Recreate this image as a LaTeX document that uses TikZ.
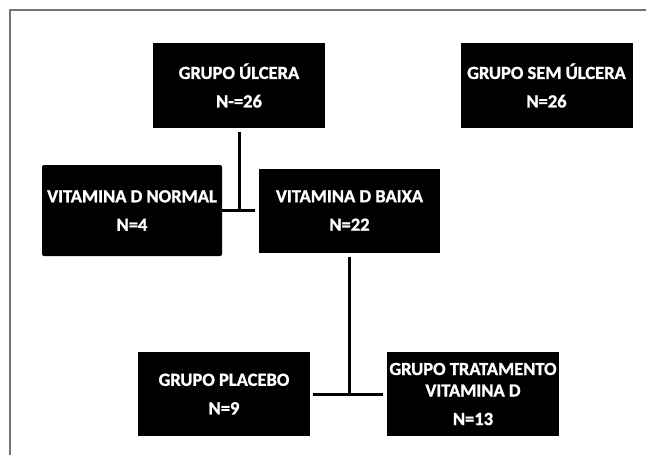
\documentclass[tikz,border=0pt]{standalone}
\usepackage{fontspec}
\setmainfont{Carlito}[BoldFeatures={FakeBold=1.2}]
\tikzset{
	caixa/.style={fill=black, text=white, align=center, inner sep=1pt, font=\fontsize{18.5}{21.5}\selectfont\bfseries},
	liga/.style={black, line width=3pt},
	moldura/.style={black!55, line width=1.5pt}
}
\begin{document}
\begin{tikzpicture}[x=1pt, y=-1pt]
		\useasboundingbox (0,0) rectangle (646,455);
		\draw[moldura] (10,455) -- (10,10) -- (646,10);

		\node[caixa, minimum width=172pt, minimum height=85pt] (ulcera) at (239,85.5) {GRUPO ÚLCERA\\[7pt]N-=26};
		\node[caixa, minimum width=172pt, minimum height=85pt] (semulcera) at (546.5,85.5) {GRUPO SEM ÚLCERA\\[7pt]N=26};
		\node[caixa, minimum width=180pt, minimum height=91pt, rounded corners=2pt] (vitnormal) at (132,210.5) {VITAMINA D NORMAL\\[7pt]N=4};
		\node[caixa, minimum width=181pt, minimum height=84pt] (vitbaixa) at (349.5,210.5) {VITAMINA D BAIXA\\[7pt]N=22};
		\node[caixa, minimum width=172pt, minimum height=84pt] (placebo) at (224,394) {GRUPO PLACEBO\\[7pt]N=9};
		\node[caixa, minimum width=172pt, minimum height=84pt] (tratamento) at (473,394) {GRUPO TRATAMENTO\\VITAMINA D\\[7pt]N=13};

		\draw[liga] ([yshift=-4pt]ulcera.south) -- (ulcera.south |- vitnormal.east);
		\draw[liga] (vitnormal.east) -- ([xshift=-4pt]vitbaixa.west);
		\draw[liga] ([yshift=-4pt]vitbaixa.south) -- (vitbaixa.south |- placebo.east);
		\draw[liga] ([xshift=3pt]placebo.east) -- ([xshift=-4pt]tratamento.west);
	\end{tikzpicture}
\end{document}
